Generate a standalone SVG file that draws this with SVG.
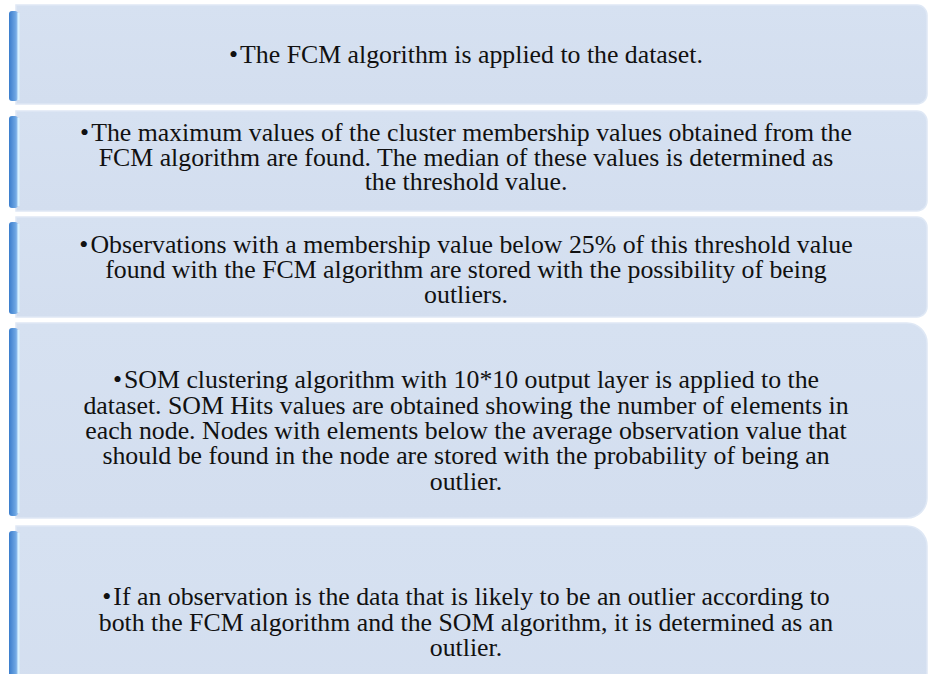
<svg xmlns="http://www.w3.org/2000/svg" width="929" height="674" viewBox="0 0 929 674">
<defs>
<linearGradient id="bar" x1="0" y1="0" x2="1" y2="0">
<stop offset="0" stop-color="#3a7dcc"/>
<stop offset="0.7" stop-color="#6aa4e2"/>
<stop offset="1" stop-color="#9cc6f0"/>
</linearGradient>
<linearGradient id="fill" x1="0" y1="0" x2="0" y2="1">
<stop offset="0" stop-color="#d6e1f1"/>
<stop offset="1" stop-color="#d3deef"/>
</linearGradient>
</defs>
<style>
.box{fill:url(#fill);stroke:#dfe8f5;stroke-width:1.5}
.bar{fill:url(#bar)}
.hl{stroke:#d8f2ff;stroke-width:2}
text{font-family:"Liberation Serif","Times New Roman",serif;font-size:25.8px;fill:#111;text-anchor:middle}
</style>
<rect width="929" height="674" fill="#ffffff"/>
<g id="node1">
<path class="box" d="M16,5 H917 A10,10 0 0 1 927,15 V94 A10,10 0 0 1 917,104 H16 Z"/>
<rect class="bar" x="9" y="11" width="9" height="90" rx="3"/>
<line class="hl" x1="18.5" y1="13" x2="18.5" y2="100"/>
<text x="466" y="63">•<tspan dx="2">The FCM algorithm is applied to the dataset.</tspan></text>
</g>
<g id="node2">
<path class="box" d="M16,111 H917 A10,10 0 0 1 927,121 V201 A10,10 0 0 1 917,211 H16 Z"/>
<rect class="bar" x="9" y="116" width="9" height="92" rx="3"/>
<line class="hl" x1="18.5" y1="118" x2="18.5" y2="206"/>
<text x="466" y="141">•<tspan dx="2">The maximum values of the cluster membership values obtained from the</tspan></text>
<text x="466" y="166">FCM algorithm are found. The median of these values is determined as</text>
<text x="466" y="190">the threshold value.</text>
</g>
<g id="node3">
<path class="box" d="M16,217 H917 A10,10 0 0 1 927,227 V307 A10,10 0 0 1 917,317 H16 Z"/>
<rect class="bar" x="9" y="222" width="9" height="92" rx="3"/>
<line class="hl" x1="18.5" y1="224" x2="18.5" y2="312"/>
<text x="466" y="253">•<tspan dx="2">Observations with a membership value below 25% of this threshold value</tspan></text>
<text x="466" y="278">found with the FCM algorithm are stored with the possibility of being</text>
<text x="466" y="303">outliers.</text>
</g>
<g id="node4">
<path class="box" d="M16,323 H907 A20,20 0 0 1 927,343 V498 A20,20 0 0 1 907,518 H16 Z"/>
<rect class="bar" x="9" y="328" width="9" height="188" rx="3"/>
<line class="hl" x1="18.5" y1="330" x2="18.5" y2="513"/>
<text x="466" y="388">•<tspan dx="2">SOM clustering algorithm with 10*10 output layer is applied to the</tspan></text>
<text x="466" y="414">dataset. SOM Hits values are obtained showing the number of elements in</text>
<text x="466" y="439">each node. Nodes with elements below the average observation value that</text>
<text x="466" y="464">should be found in the node are stored with the probability of being an</text>
<text x="466" y="490">outlier.</text>
</g>
<g id="node5">
<path class="box" d="M16,526 H907 A20,20 0 0 1 927,546 V702 A20,20 0 0 1 907,722 H16 Z"/>
<rect class="bar" x="9" y="531" width="9" height="190" rx="3"/>
<line class="hl" x1="18.5" y1="533" x2="18.5" y2="720"/>
<text x="466" y="605">•<tspan dx="2">If an observation is the data that is likely to be an outlier according to</tspan></text>
<text x="466" y="631">both the FCM algorithm and the SOM algorithm, it is determined as an</text>
<text x="466" y="656">outlier.</text>
</g>
<g id="connectors"/>
</svg>
